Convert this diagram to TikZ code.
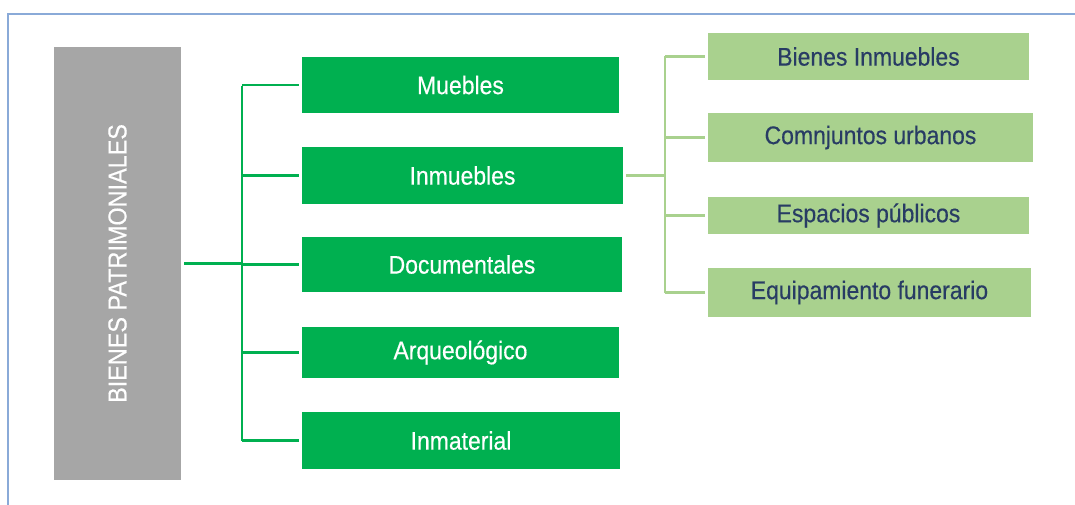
\documentclass[tikz,border=0pt]{standalone}
\usepackage{fontspec}
\setmainfont{Liberation Sans}[FakeStretch=0.9, FakeBold=0.4]
\definecolor{dkgreen}{HTML}{00B050}
\definecolor{ltgreen}{HTML}{A9D18E}
\definecolor{grayfill}{HTML}{A6A6A6}
\definecolor{navy}{HTML}{283C64}
\definecolor{frameblue}{HTML}{8AAAD8}
\tikzset{
  catbox/.style={fill=dkgreen, draw=none, inner sep=0pt, text=white, font=\fontsize{25.5}{28}\selectfont},
  subbox/.style={fill=ltgreen, draw=none, inner sep=0pt, text=navy, font=\fontsize{25.5}{28}\selectfont},
  rootbox/.style={fill=grayfill, draw=none, inner sep=0pt},
  dkline/.style={draw=dkgreen, line width=2.4pt},
  ltline/.style={draw=ltgreen, line width=2.6pt},
}
\begin{document}
\begin{tikzpicture}[x=1pt,y=-1pt]
\useasboundingbox (0,0) rectangle (1075,505);
% frame
\draw[frameblue, line width=1.3pt] (1075,14) -- (8,14) -- (8,505);
% root
\node[rootbox, minimum width=127pt, minimum height=433pt] (g) at (117.5,263.5) {};
\node[rotate=90, text=white, font=\fontsize{26}{28}\selectfont, inner sep=0pt] (gt) at (g.center) {BIENES PATRIMONIALES};
% categories
\node[catbox, minimum width=317pt, minimum height=56pt] (m1) at (460.5,85) {Muebles};
\node[catbox, minimum width=321pt, minimum height=57pt] (m2) at (462.5,175.5) {Inmuebles};
\node[catbox, minimum width=320pt, minimum height=55pt] (m3) at (462,264.5) {Documentales};
\node[catbox, minimum width=317pt, minimum height=51pt] (m4) at (460.5,352.5) {Arqueológico};
\node[catbox, minimum width=318pt, minimum height=57pt] (m5) at (461,440.5) {Inmaterial};
% subcategories
\node[subbox, minimum width=321pt, minimum height=47pt] (s1) at (868.5,56.5) {Bienes Inmuebles};
\node[subbox, minimum width=325pt, minimum height=49pt] (s2) at (870.5,137.5) {Comnjuntos urbanos};
\node[subbox, minimum width=321pt, minimum height=37pt] (s3) at (868.5,215.5) {Espacios públicos};
\node[subbox, minimum width=323pt, minimum height=49pt] (s4) at (869.5,292.5) {Equipamiento funerario};
% dark connectors
\coordinate (bus) at (242,0);
\draw[dkline] ([xshift=3pt]g.east) -- (bus |- g.east);
\draw[dkline] ([yshift=-1pt]bus |- m1.west) -- (bus |- m5.west);
\foreach \m in {m1,m2,m3,m4,m5}{
  \draw[dkline] (bus |- \m.west) -- ([xshift=-3pt]\m.west);
}
% light connectors
\coordinate (lbus) at (665,0);
\draw[ltline] ([xshift=3pt]m2.east) -- (lbus |- m2.east);
\draw[ltline] (lbus |- s1.west) -- (lbus |- s4.west);
\foreach \s in {s1,s2,s3,s4}{
  \draw[ltline] (lbus |- \s.west) -- ([xshift=-3pt]\s.west);
}
\end{tikzpicture}
\end{document}
